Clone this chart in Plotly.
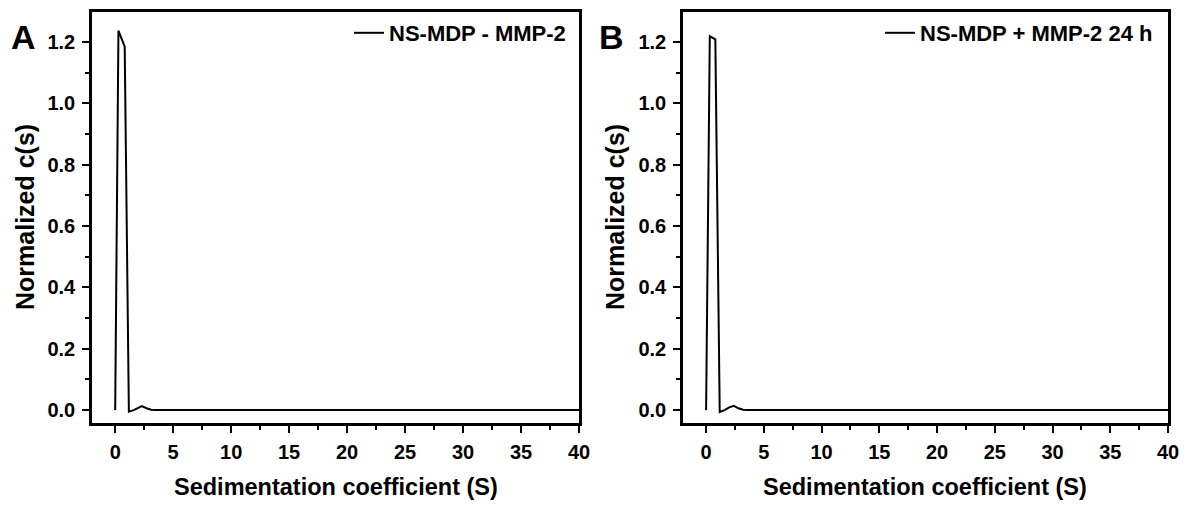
import plotly.graph_objects as go

# Panel A: NS-MDP - MMP-2
sA = [0.0, 0.28, 0.82, 1.18, 1.6, 2.0, 2.3, 2.7, 3.1, 3.5, 5, 10, 15, 20, 25, 30, 35, 40]
cA = [0.0, 1.237, 1.185, -0.005, 0.0, 0.008, 0.013, 0.006, 0.001, 0.0, 0.0, 0.0, 0.0, 0.0, 0.0, 0.0, 0.0, 0.0]
nameA = "NS-MDP - MMP-2"

# Panel B: NS-MDP + MMP-2 24 h
sB = [0.0, 0.32, 0.8, 1.18, 1.6, 2.0, 2.4, 2.8, 3.2, 3.6, 5, 10, 15, 20, 25, 30, 35, 40]
cB = [0.0, 1.219, 1.209, -0.006, 0.0, 0.009, 0.014, 0.006, 0.001, 0.0, 0.0, 0.0, 0.0, 0.0, 0.0, 0.0, 0.0, 0.0]
nameB = "NS-MDP + MMP-2 24 h"

xticks = [0, 5, 10, 15, 20, 25, 30, 35, 40]
yticks = [0.0, 0.2, 0.4, 0.6, 0.8, 1.0, 1.2]
xtitle = "Sedimentation coefficient (S)"
ytitle = "Normalized c(s)"
panel_labels = ["A", "B"]

FONT = "Liberation Sans, Arial, sans-serif"
OFF = 8  # page body margin
W, H = 1190 - OFF, 505 - OFF

def px(x):
    return (x - OFF) / W

def py(y):
    return 1 - (y - OFF) / H

fig = go.Figure()
fig.add_trace(go.Scatter(x=sA, y=cA, mode="lines", name=nameA,
                         line=dict(color="black", width=2), xaxis="x", yaxis="y", legend="legend"))
fig.add_trace(go.Scatter(x=sB, y=cB, mode="lines", name=nameB,
                         line=dict(color="black", width=2), xaxis="x2", yaxis="y2", legend="legend2"))

domA = [px(92), px(579)]
domB = [px(683), px(1168)]
ydom = [py(423), py(12)]

def xax(dom, anchor):
    return dict(domain=dom, anchor=anchor, range=[-2, 40], tickvals=xticks,
                ticktext=[str(v) for v in xticks], automargin=False,
                ticks="outside", ticklen=7, tickwidth=2, tickcolor="black",
                minor=dict(dtick=2.5, tick0=0, ticks="outside", ticklen=4, tickwidth=2, tickcolor="black"),
                showline=True, linewidth=2.5, linecolor="black", mirror=True,
                showgrid=False, zeroline=False, ticklabelstandoff=2,
                tickfont=dict(family=FONT, size=20, color="black", weight="bold"))

def yax(anchor):
    return dict(domain=ydom, anchor=anchor, range=[-0.042, 1.298], tickvals=yticks,
                ticktext=["%.1f" % v for v in yticks], automargin=False,
                ticks="outside", ticklen=7, tickwidth=2, tickcolor="black",
                minor=dict(dtick=0.1, tick0=0, ticks="outside", ticklen=4, tickwidth=2, tickcolor="black"),
                showline=True, linewidth=2.5, linecolor="black", mirror=True,
                showgrid=False, zeroline=False, ticklabelstandoff=3,
                tickfont=dict(family=FONT, size=20, color="black", weight="bold"))

leg = dict(xanchor="right", yanchor="middle", bgcolor="rgba(0,0,0,0)", borderwidth=0,
           font=dict(family=FONT, size=22, color="black", weight="bold"),
           itemwidth=30, tracegroupgap=0)

def txt(text, x, y, size, angle=0, xanchor="center"):
    return dict(text=text, x=px(x), y=py(y), xref="paper", yref="paper",
                xanchor=xanchor, yanchor="middle", showarrow=False, textangle=angle,
                font=dict(family=FONT, size=size, color="black", weight="bold"))

fig.update_layout(
    width=W, height=H,
    margin=dict(l=0, r=0, t=0, b=0),
    paper_bgcolor="white", plot_bgcolor="white",
    showlegend=True,
    xaxis=xax(domA, "y"), yaxis=yax("x"),
    xaxis2=xax(domB, "y2"), yaxis2=yax("x2"),
    legend=dict(leg, x=px(571), y=py(33)),
    legend2=dict(leg, x=px(1158), y=py(33)),
    annotations=[
        txt(panel_labels[0], 9, 37, 34, xanchor="left"),
        txt(panel_labels[1], 597, 37, 34, xanchor="left"),
        txt(xtitle, 335.5, 487, 23.5),
        txt(xtitle, 925.5, 487, 23.5),
        txt(ytitle, 25, 217, 25, angle=-90),
        txt(ytitle, 615, 217, 25, angle=-90),
    ],
)

fig.write_html("out.html")
